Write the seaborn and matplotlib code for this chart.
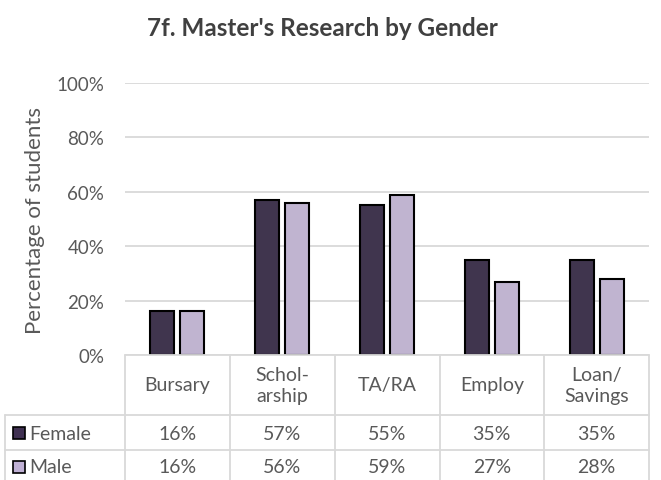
import seaborn as sns
import matplotlib.pyplot as plt
import pandas as pd
from matplotlib.lines import Line2D
from matplotlib.patches import Rectangle
from matplotlib import transforms

categories = ["Bursary", "Scholarship", "TA/RA", "Employ", "Loan/Savings"]
header_labels = ["Bursary", "Schol-\narship", "TA/RA", "Employ", "Loan/\nSavings"]
female = [16, 57, 55, 35, 35]
male = [16, 56, 59, 27, 28]
genders = ["Female", "Male"]
yticks = [0, 20, 40, 60, 80, 100]

fcol = "#403152"
mcol = "#BFB0D4"
grid = "#D9D9D9"
txt = "#595959"

sns.set_theme(style="white")
plt.rcParams['font.family'] = ['Lato', 'DejaVu Sans']

W, H = 661, 481
fig = plt.figure(figsize=(W / 100, H / 100), dpi=100)
ax = fig.add_axes([125 / W, (H - 356) / H, (649 - 125) / W, (356 - 84) / H])

df = pd.DataFrame({
    "cat": categories * 2,
    "gender": [genders[0]] * len(female) + [genders[1]] * len(male),
    "val": [v / 100 for v in female + male],
})
sns.barplot(data=df, x="cat", y="val", hue="gender", palette=[fcol, mcol],
            width=0.571, gap=0.2, edgecolor="black", linewidth=1.5,
            ax=ax, legend=False, errorbar=None)

ax.set_ylim(0, 1)
ax.set_xlim(-0.5, len(categories) - 0.5)
ax.set_yticks([t / 100 for t in yticks])
ax.set_yticklabels([f"{t}%" for t in yticks])
ax.set_xticks([])
ax.set_xlabel("")
ax.set_ylabel("")
ax.yaxis.grid(True, color=grid, lw=1.3)
ax.set_axisbelow(True)
for s in ax.spines.values():
    s.set_visible(False)
ax.tick_params(axis="y", length=0, pad=15, labelcolor=txt, labelsize=13.5)

fig.text(35 / W, 1 - 221 / H, "Percentage of students", rotation=90,
         ha="center", va="center", fontsize=16, color=txt)
fig.text(322 / W, 1 - 28 / H, "7f. Master's Research by Gender", ha="center",
         va="center", fontsize=17.5, fontweight="bold", color="#404040")

def fline(x0, x1, y0, y1):
    fig.add_artist(Line2D([x0 / W, x1 / W], [1 - y0 / H, 1 - y1 / H],
                          transform=fig.transFigure, color=grid, lw=1.3))

fline(125, 649, 356, 356)
fline(5, 649, 416, 416)
fline(5, 649, 451, 451)
for xv in [125, 230, 335, 440, 544, 649]:
    fline(xv, xv, 356, 481)
fline(5, 5, 416, 481)

bt = transforms.blended_transform_factory(ax.transData, fig.transFigure)
for i, lab in enumerate(header_labels):
    fig.text(i, 1 - 386 / H, lab, transform=bt, ha="center", va="center",
             fontsize=14, color=txt, linespacing=1.3)
for i, (f, m) in enumerate(zip(female, male)):
    fig.text(i, 1 - 434 / H, f"{f}%", transform=bt, ha="center", va="center",
             fontsize=14, color=txt)
    fig.text(i, 1 - 468 / H, f"{m}%", transform=bt, ha="center", va="center",
             fontsize=14, color=txt)

for yc, col, name in [(434, fcol, genders[0]), (468, mcol, genders[1])]:
    fig.add_artist(Rectangle((13 / W, 1 - (yc + 6) / H), 12 / W, 12 / H,
                             facecolor=col, edgecolor="black", lw=1.2,
                             transform=fig.transFigure))
    fig.text(29 / W, 1 - yc / H, name, ha="left", va="center",
             fontsize=14, color=txt)

fig.savefig("out.png", dpi=100)
